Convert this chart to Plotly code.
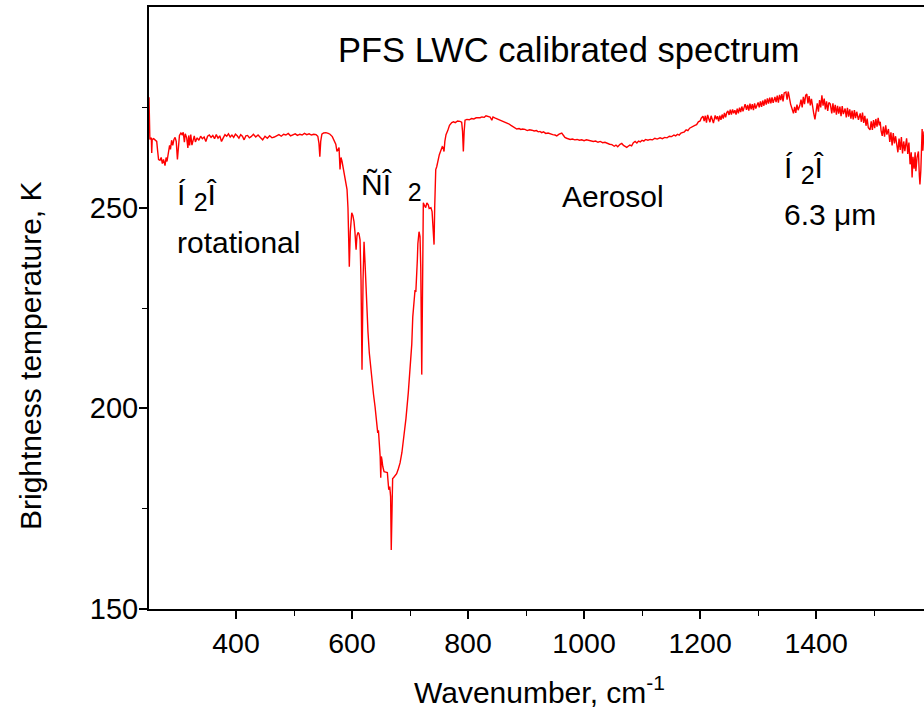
import plotly.graph_objects as go

wavenumber = [
    250, 250.8, 251.5, 252.5, 254, 254.7, 255.5, 258, 261, 263.3, 265, 266.5, 269, 271, 273, 275, 277.6, 279.5,
    281, 283.3, 285.5, 287, 289, 291, 293, 295, 297, 299, 300.5, 302.5, 305, 307, 309, 311, 312.5, 315, 317,
    318.5, 320, 322, 324, 326, 328, 330, 333, 336, 339, 342, 345, 348, 351, 354, 357, 360, 363, 366, 369, 372,
    375, 378, 381, 384, 387, 390, 393, 396, 399, 402, 405, 408, 411, 414, 417, 420, 423, 426, 430, 434, 438,
    442, 446, 450, 454, 458, 462, 466, 470, 474, 478, 482, 486, 490, 494, 498, 502, 506, 510, 514, 518, 522,
    526, 530, 534, 538, 541, 543, 544.5, 546, 548, 551, 555, 559, 562, 566, 570, 572, 574, 576, 577.6, 579.3,
    581, 582.8, 585, 588, 590, 591.4, 593, 595.3, 597, 599.5, 601.5, 603.4, 605, 607, 608.5, 610.3, 612,
    613.8, 615.5, 617.2, 619, 620.7, 622.5, 625, 627.5, 629.8, 632, 634.5, 637, 639.7, 642, 644.3, 645.5, 647,
    648.5, 649.5, 650.5, 651.5, 653, 655.2, 658, 660.9, 662, 663.3, 665, 666.5, 667.6, 668.8, 670, 671.5, 674,
    676.9, 680, 682.8, 686, 689.7, 693, 697, 699, 701, 703, 704.7, 706.5, 708.6, 710, 710.9, 712, 712.6, 713.5,
    714.3, 715.5, 717.2, 718.5, 720.2, 721.5, 722.9, 725, 727, 729, 731.4, 733, 734.3, 736, 738, 740, 741.4,
    742.5, 744.3, 746, 748, 750.5, 752, 754, 755.5, 757, 758.6, 760, 762, 765, 768, 771.9, 775, 778, 782, 786,
    789, 790.5, 791.9, 793.3, 794.8, 798, 802, 806, 810, 814, 818, 820.7, 824, 828, 831, 834.5, 838, 841, 843,
    846, 849.5, 853, 857, 861, 864, 866.7, 870, 874, 878, 881, 884, 888, 891, 894, 898, 902, 906, 910, 914,
    918, 921, 924, 927, 930, 934, 938, 942, 946, 950, 953, 957, 961.6, 964, 967, 970, 973, 976, 980, 984, 988,
    992, 996, 1000, 1004, 1008, 1012, 1016, 1020, 1024, 1028, 1032, 1036, 1040, 1044, 1048, 1052, 1055, 1058,
    1062, 1065, 1068, 1071, 1073.6, 1076, 1079, 1082, 1085, 1088, 1091, 1094, 1097, 1100, 1103, 1106, 1110,
    1114, 1118, 1122, 1126, 1131, 1135, 1139, 1143, 1147, 1151, 1155, 1158, 1161, 1164, 1167, 1170, 1173, 1176,
    1179, 1182, 1185, 1188, 1191, 1194, 1197, 1200, 1202, 1205, 1207, 1209, 1211, 1213, 1215, 1217, 1219, 1221,
    1223, 1226, 1228, 1230, 1232, 1234, 1236, 1238, 1240, 1242, 1244, 1246, 1248, 1250, 1252, 1254, 1256, 1258,
    1260, 1262, 1264, 1266, 1268, 1270, 1272, 1274, 1276, 1277.6, 1280, 1282, 1284, 1286, 1288, 1290, 1292,
    1294, 1296, 1298, 1300, 1302, 1304, 1306, 1308, 1310, 1312, 1314, 1316, 1318, 1320, 1322, 1324, 1326, 1329,
    1331, 1333, 1335, 1337, 1339, 1341, 1343, 1345, 1348, 1350, 1352, 1354, 1356, 1358, 1361, 1363, 1365, 1367,
    1369, 1372, 1374, 1376, 1378, 1380, 1382, 1384, 1386, 1388, 1390, 1392, 1394, 1396, 1398, 1400, 1402, 1404,
    1406, 1408, 1410, 1412, 1414, 1416, 1418, 1420, 1422, 1424.5, 1427, 1429, 1431, 1433, 1435, 1437, 1439,
    1441, 1443, 1445, 1447, 1450, 1452, 1454, 1456, 1458, 1460, 1462, 1464, 1466, 1468, 1470, 1473, 1476, 1478,
    1480, 1482, 1484, 1486, 1488, 1490, 1493, 1495, 1497, 1499, 1501, 1503, 1505, 1507, 1509, 1510.5, 1512,
    1514, 1516, 1518, 1520, 1522, 1524.7, 1527, 1529, 1531, 1533, 1535, 1537, 1539, 1541, 1543, 1545, 1547,
    1549, 1551, 1553, 1556, 1558, 1560, 1562, 1564, 1565.5, 1567, 1569, 1570.7, 1572, 1574, 1576.4, 1578, 1579,
    1580.5, 1582, 1582.8, 1584, 1585, 1586,
]

brightness_temp = [
    277.5, 270, 267, 267.2, 267.4, 263.6, 267, 267.2, 266.8, 266.5, 264, 262, 261.8, 262.5, 261, 262, 260.5, 262.5,
    261.5, 263.8, 265.5, 264.5, 266.8, 265.5, 267, 267.5, 266.5, 262, 266, 268, 268.6, 268.2, 268.8, 266.3, 268.4,
    267.4, 264.9, 268, 265.5, 268.2, 265.6, 267.3, 267.9, 266.4, 267.4, 266.8, 267.8, 267.2, 267.6, 266.5, 267.8,
    268.1, 267.5, 268, 267.2, 268.2, 267.3, 267.9, 266.5, 267.4, 268.2, 267.8, 268.4, 267.6, 268.1, 267.5, 268.3,
    267.9, 267.3, 268.2, 267.8, 266.9, 267.9, 268, 267.4, 267.7, 268.3, 267.6, 268.1, 267.5, 266.9, 267.8, 267.3,
    267.9, 267.4, 267.6, 268, 268.2, 267.8, 268.3, 268.1, 268.5, 267.9, 268.2, 268.4, 268, 268.3, 268.1, 268.5,
    268.2, 268.4, 268.1, 268.3, 268.2, 267.8, 266, 262.7, 266.5, 268.3, 268.6, 268.7, 268.5, 268.3, 267.7, 266.6,
    265.8, 264, 264.5, 265, 259.5, 262.5, 261.5, 259.8, 257.7, 256, 254.5, 250, 235.3, 244, 248.7, 248, 246.5,
    244, 239.5, 243, 243.8, 243.5, 242, 232, 209.6, 232, 241.5, 236, 226, 219, 213.8, 210, 206.5, 203.5, 200.4,
    197, 193.9, 194.5, 192, 188, 182.7, 188, 187.2, 185.5, 184.2, 184.1, 184, 182, 179.7, 180.5, 178, 164.7, 175,
    182.5, 182.7, 183.2, 183.7, 185, 186.4, 189, 193, 197.5, 203.9, 207.5, 212.8, 216, 222.8, 227, 229.5, 229,
    231.3, 233, 237, 241, 243.8, 244, 242.8, 235, 208.4, 235, 251.2, 250.5, 250, 251.2, 250.7, 249.8, 250, 250,
    249, 245, 240.8, 250, 259.5, 260.2, 262, 263.2, 263.8, 264.6, 265.2, 265, 264, 266.5, 268.2, 269.2, 270.5,
    271.2, 271.4, 271.2, 271.6, 271.5, 271.3, 269, 264, 269, 271.8, 272, 271.9, 272.2, 272.1, 272.4, 272.3, 272.4,
    272.6, 272.5, 272.9, 272.8, 272.6, 271.8, 272.6, 272.4, 272.2, 272, 271.8, 271.5, 271.2, 271.2, 270.9, 270.5,
    270.1, 270, 269.6, 269.7, 269.5, 269.6, 269.5, 269.2, 269.4, 269.3, 269.1, 269.2, 268.9, 269, 268.7, 268.9,
    268.5, 268.6, 268.3, 268.2, 268.1, 267.9, 268.3, 268.6, 268.1, 267.5, 267.3, 267.1, 267, 267.1, 266.9, 267,
    266.8, 266.9, 266.7, 266.9, 266.8, 266.7, 266.5, 266.6, 266.3, 266.5, 266.2, 266.3, 266, 265.8, 265.7, 265.3,
    265.6, 265.2, 265.8, 266, 265.5, 265.1, 265, 265.3, 265.6, 265.4, 266.2, 266.5, 266.1, 266.6, 266.4, 266.8,
    266.6, 267, 266.8, 267, 266.9, 267.3, 267.1, 267.4, 267.2, 267.5, 267.4, 267.8, 267.7, 268.1, 267.9, 268.3,
    268.1, 268.6, 268.7, 268.9, 269.4, 269.2, 269.8, 270.1, 270.3, 270.5, 270.7, 271.4, 271.6, 272.3, 272.8,
    271.6, 272.9, 271.2, 273.1, 272.2, 271.3, 272.9, 271.8, 271.1, 273.0, 272.0, 272.8, 271.5, 272.9, 271.9, 273.2,
    272.2, 273.6, 272.5, 273.7, 274.1, 273.1, 274.4, 273.2, 274.5, 273.5, 274.3, 273.2, 274.7, 273.5, 274.9, 273.8,
    275.2, 274.0, 275.4, 275.8, 274.4, 275.6, 274.2, 275.9, 274.5, 275.8, 274.3, 276.0, 274.7, 275.6, 276.2, 275.0,
    276.5, 275.1, 276.7, 275.4, 277.0, 275.7, 277.2, 275.9, 277.4, 276.0, 277.5, 276.1, 277.6, 276.3, 277.9, 276.2,
    278.1, 276.8, 278.3, 276.5, 278.6, 278.8, 276.9, 278.9, 277.0, 275.8, 274.9, 273.5, 275.1, 273.6, 275.7,
    274.3, 275.5, 276.9, 275.0, 277.6, 275.8, 278.0, 278.3, 276.0, 277.8, 275.5, 277.1, 274.5, 273.4, 272, 274.6,
    276.0, 273.9, 276.8, 275.0, 278.0, 275.4, 277.2, 274.5, 276.5, 274.1, 276.2, 275.8, 273.5, 276.0, 273.7,
    275.6, 273.2, 275.4, 273.4, 275.2, 272.8, 275.3, 273.3, 274.7, 272.5, 274.9, 272.7, 274.5, 272.2, 274.2, 272.0,
    274.3, 272.3, 273.9, 271.9, 273.5, 271.4, 273.7, 271.1, 272.9, 270.4, 272.2, 269.9, 269.4, 271.5, 269.4, 271.8,
    269.8, 272.1, 270.2, 272.4, 270.5, 271.4, 269.2, 267.9, 270.2, 267.7, 270.5, 268.2, 269.6, 266.4, 268.8,
    265.5, 268.6, 266.0, 267.8, 265.0, 263.8, 267.2, 264.4, 267.6, 263.5, 266.5, 264.1, 267.3, 263.4, 266.2, 260.8,
    263.8, 257.5, 262.7, 259.7, 263.8, 259.1, 262.5, 264.0, 257.9, 255.8, 259.2, 265.8, 269.6, 264.2, 268.3, 269,
]

x_major_ticks = [400, 600, 800, 1000, 1200, 1400]
x_minor_ticks = [500, 700, 900, 1100, 1300, 1500]
y_major_ticks = [150, 200, 250]
y_minor_ticks = [175, 225, 275]

title_text = "PFS LWC calibrated spectrum"
x_title = "Wavenumber, cm<sup>-1</sup>"
y_title = "Brightness temperature, K"

SUB2 = "<sub><span style='font-size:25px'>2</span></sub>"
labels = [
    ("Í\u00a0" + SUB2 + "Î", 295, 252.7),
    ("rotational", 295, 241.3),
    ("ÑÎ\u00a0\u00a0" + SUB2, 612, 255.2),
    ("Aerosol", 959, 252.7),
    ("Í\u00a0" + SUB2 + "Î", 1341, 259.5),
    ("6.3 μm", 1341, 248.3),
]

FONT = "Liberation Sans, Arial, sans-serif"

fig = go.Figure()
fig.add_trace(go.Scatter(
    x=wavenumber, y=brightness_temp, mode="lines",
    line=dict(color="#ff0000", width=1.4), showlegend=False, hoverinfo="skip",
))

annotations = []
for text, xv, yv in labels:
    annotations.append(dict(
        text=text, x=xv, y=yv, xref="x", yref="y", xanchor="left", yanchor="middle",
        showarrow=False, font=dict(family=FONT, size=30, color="black"),
    ))
annotations.append(dict(
    text=title_text, x=(336 - 149) / 775, y=(609 - 49.5) / 602, xref="paper", yref="paper",
    xanchor="left", yanchor="middle", showarrow=False,
    font=dict(family=FONT, size=34.5, color="black"),
))
annotations.append(dict(
    text=x_title, x=(539 - 149) / 775, y=(609 - 690) / 602, xref="paper", yref="paper",
    xanchor="center", yanchor="middle", showarrow=False,
    font=dict(family=FONT, size=30, color="black"),
))
annotations.append(dict(
    text=y_title, x=(30 - 149) / 775, y=(609 - 356) / 602, xref="paper", yref="paper",
    xanchor="center", yanchor="middle", textangle=-90, showarrow=False,
    font=dict(family=FONT, size=30, color="black"),
))

fig.update_layout(
    width=924, height=710,
    margin=dict(l=149, r=0, t=7, b=101),
    paper_bgcolor="white", plot_bgcolor="white",
    font=dict(family=FONT, size=28, color="black"),
    annotations=annotations,
    xaxis=dict(
        range=[250, 1586], tickmode="array", tickvals=x_major_ticks,
        ticks="outside", ticklen=8, tickwidth=1.5, tickcolor="black",
        showline=True, linecolor="black", linewidth=1.5, mirror=True,
        showgrid=False, zeroline=False,
        tickfont=dict(family=FONT, size=28.5, color="black"),
        minor=dict(tickmode="array", tickvals=x_minor_ticks, ticks="outside", ticklen=5,
                   tickwidth=1, tickcolor="black", showgrid=False),
    ),
    yaxis=dict(
        range=[150, 300], tickmode="array", tickvals=y_major_ticks,
        ticks="outside", ticklen=8, tickwidth=1.5, tickcolor="black",
        showline=True, linecolor="black", linewidth=2, mirror=False,
        showgrid=False, zeroline=False, ticklabelstandoff=-5,
        tickfont=dict(family=FONT, size=29, color="black"),
        minor=dict(tickmode="array", tickvals=y_minor_ticks, ticks="outside", ticklen=5,
                   tickwidth=1, tickcolor="black", showgrid=False),
    ),
)

fig.write_html("out.html")
